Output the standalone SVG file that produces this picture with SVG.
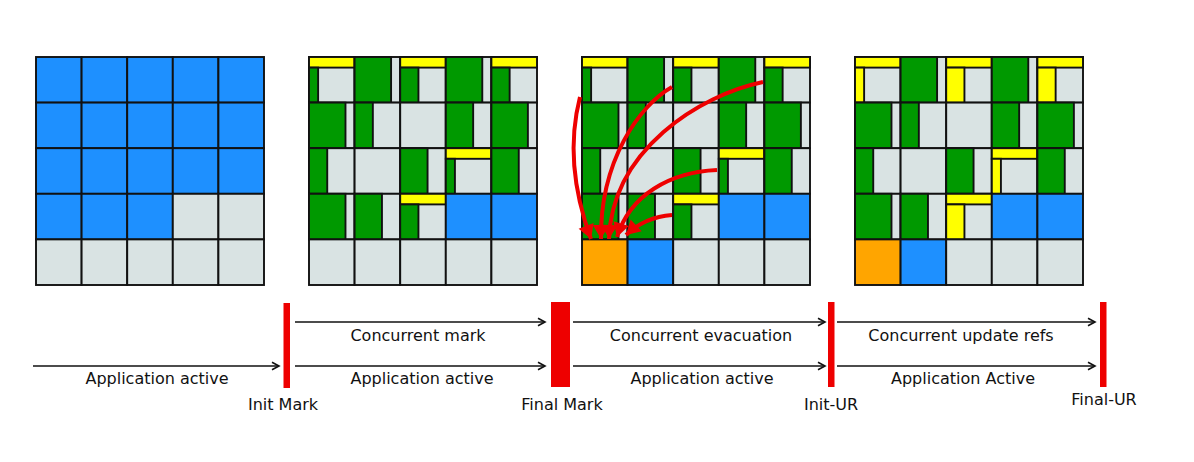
<svg xmlns="http://www.w3.org/2000/svg" width="1194" height="462" viewBox="0 0 1194 462">
<style>
rect{stroke:#111;stroke-width:1.9}
.e{fill:#d9e3e3}
.g{fill:#009900}
.b{fill:#1e90ff}
.y{fill:#ffff00}
.o{fill:#ffa500}
.bar{fill:#ee0000;stroke:none}
.ln{stroke:#111;stroke-width:1.6;fill:none;marker-end:url(#ah)}
.red{stroke:#ee0000;stroke-width:4;fill:none;marker-end:url(#rh)}
text{font-family:"DejaVu Sans","Liberation Sans",sans-serif;font-size:16px;fill:#111;text-anchor:middle}
</style>
<defs>
<marker id="ah" markerUnits="userSpaceOnUse" markerWidth="10" markerHeight="10" refX="8" refY="4" orient="auto" overflow="visible">
<path d="M1,0.3 L8,4 L1,7.7" fill="none" stroke="#111" stroke-width="1.6"/>
</marker>
<marker id="rh" markerUnits="userSpaceOnUse" markerWidth="16" markerHeight="16" refX="14" refY="8" orient="auto" overflow="visible">
<path d="M0,0 L14,8 L0,16 z" fill="#ee0000"/>
</marker>
</defs>

<!-- Panel 1: heap before GC -->
<g id="heap-1" transform="translate(36,57)">
<rect class="b" x="0" y="0" width="45.6" height="45.6"/><rect class="b" x="45.6" y="0" width="45.6" height="45.6"/><rect class="b" x="91.2" y="0" width="45.6" height="45.6"/><rect class="b" x="136.8" y="0" width="45.6" height="45.6"/><rect class="b" x="182.4" y="0" width="45.6" height="45.6"/>
<rect class="b" x="0" y="45.6" width="45.6" height="45.6"/><rect class="b" x="45.6" y="45.6" width="45.6" height="45.6"/><rect class="b" x="91.2" y="45.6" width="45.6" height="45.6"/><rect class="b" x="136.8" y="45.6" width="45.6" height="45.6"/><rect class="b" x="182.4" y="45.6" width="45.6" height="45.6"/>
<rect class="b" x="0" y="91.2" width="45.6" height="45.6"/><rect class="b" x="45.6" y="91.2" width="45.6" height="45.6"/><rect class="b" x="91.2" y="91.2" width="45.6" height="45.6"/><rect class="b" x="136.8" y="91.2" width="45.6" height="45.6"/><rect class="b" x="182.4" y="91.2" width="45.6" height="45.6"/>
<rect class="b" x="0" y="136.8" width="45.6" height="45.6"/><rect class="b" x="45.6" y="136.8" width="45.6" height="45.6"/><rect class="b" x="91.2" y="136.8" width="45.6" height="45.6"/><rect class="e" x="136.8" y="136.8" width="45.6" height="45.6"/><rect class="e" x="182.4" y="136.8" width="45.6" height="45.6"/>
<rect class="e" x="0" y="182.4" width="45.6" height="45.6"/><rect class="e" x="45.6" y="182.4" width="45.6" height="45.6"/><rect class="e" x="91.2" y="182.4" width="45.6" height="45.6"/><rect class="e" x="136.8" y="182.4" width="45.6" height="45.6"/><rect class="e" x="182.4" y="182.4" width="45.6" height="45.6"/>
</g>

<!-- Panel 2: after marking -->
<g id="heap-2" transform="translate(309,57)">
<rect class="e" x="0" y="0" width="45.6" height="45.6"/><rect class="y" x="0" y="0" width="45.6" height="10.6"/><rect class="g" x="0" y="10.6" width="9.12" height="35"/>
<rect class="e" x="45.6" y="0" width="45.6" height="45.6"/><rect class="g" x="45.6" y="0" width="36.48" height="45.6"/>
<rect class="e" x="91.2" y="0" width="45.6" height="45.6"/><rect class="y" x="91.2" y="0" width="45.6" height="10.6"/><rect class="g" x="91.2" y="10.6" width="18.24" height="35"/>
<rect class="e" x="136.8" y="0" width="45.6" height="45.6"/><rect class="g" x="136.8" y="0" width="36.48" height="45.6"/>
<rect class="e" x="182.4" y="0" width="45.6" height="45.6"/><rect class="y" x="182.4" y="0" width="45.6" height="10.6"/><rect class="g" x="182.4" y="10.6" width="18.24" height="35"/>
<rect class="e" x="0" y="45.6" width="45.6" height="45.6"/><rect class="g" x="0" y="45.6" width="36.48" height="45.6"/>
<rect class="e" x="45.6" y="45.6" width="45.6" height="45.6"/><rect class="g" x="45.6" y="45.6" width="18.24" height="45.6"/>
<rect class="e" x="91.2" y="45.6" width="45.6" height="45.6"/>
<rect class="e" x="136.8" y="45.6" width="45.6" height="45.6"/><rect class="g" x="136.8" y="45.6" width="27.36" height="45.6"/>
<rect class="e" x="182.4" y="45.6" width="45.6" height="45.6"/><rect class="g" x="182.4" y="45.6" width="36.48" height="45.6"/>
<rect class="e" x="0" y="91.2" width="45.6" height="45.6"/><rect class="g" x="0" y="91.2" width="18.24" height="45.6"/>
<rect class="e" x="45.6" y="91.2" width="45.6" height="45.6"/>
<rect class="e" x="91.2" y="91.2" width="45.6" height="45.6"/><rect class="g" x="91.2" y="91.2" width="27.36" height="45.6"/>
<rect class="e" x="136.8" y="91.2" width="45.6" height="45.6"/><rect class="y" x="136.8" y="91.2" width="45.6" height="10.6"/><rect class="g" x="136.8" y="101.8" width="9.12" height="35"/>
<rect class="e" x="182.4" y="91.2" width="45.6" height="45.6"/><rect class="g" x="182.4" y="91.2" width="27.36" height="45.6"/>
<rect class="e" x="0" y="136.8" width="45.6" height="45.6"/><rect class="g" x="0" y="136.8" width="36.48" height="45.6"/>
<rect class="e" x="45.6" y="136.8" width="45.6" height="45.6"/><rect class="g" x="45.6" y="136.8" width="27.36" height="45.6"/>
<rect class="e" x="91.2" y="136.8" width="45.6" height="45.6"/><rect class="y" x="91.2" y="136.8" width="45.6" height="10.6"/><rect class="g" x="91.2" y="147.4" width="18.24" height="35"/>
<rect class="b" x="136.8" y="136.8" width="45.6" height="45.6"/>
<rect class="b" x="182.4" y="136.8" width="45.6" height="45.6"/>
<rect class="e" x="0" y="182.4" width="45.6" height="45.6"/><rect class="e" x="45.6" y="182.4" width="45.6" height="45.6"/><rect class="e" x="91.2" y="182.4" width="45.6" height="45.6"/><rect class="e" x="136.8" y="182.4" width="45.6" height="45.6"/><rect class="e" x="182.4" y="182.4" width="45.6" height="45.6"/>
</g>

<!-- Panel 3: evacuation -->
<g id="heap-3" transform="translate(582,57)">
<rect class="e" x="0" y="0" width="45.6" height="45.6"/><rect class="y" x="0" y="0" width="45.6" height="10.6"/><rect class="g" x="0" y="10.6" width="9.12" height="35"/>
<rect class="e" x="45.6" y="0" width="45.6" height="45.6"/><rect class="g" x="45.6" y="0" width="36.48" height="45.6"/>
<rect class="e" x="91.2" y="0" width="45.6" height="45.6"/><rect class="y" x="91.2" y="0" width="45.6" height="10.6"/><rect class="g" x="91.2" y="10.6" width="18.24" height="35"/>
<rect class="e" x="136.8" y="0" width="45.6" height="45.6"/><rect class="g" x="136.8" y="0" width="36.48" height="45.6"/>
<rect class="e" x="182.4" y="0" width="45.6" height="45.6"/><rect class="y" x="182.4" y="0" width="45.6" height="10.6"/><rect class="g" x="182.4" y="10.6" width="18.24" height="35"/>
<rect class="e" x="0" y="45.6" width="45.6" height="45.6"/><rect class="g" x="0" y="45.6" width="36.48" height="45.6"/>
<rect class="e" x="45.6" y="45.6" width="45.6" height="45.6"/><rect class="g" x="45.6" y="45.6" width="18.24" height="45.6"/>
<rect class="e" x="91.2" y="45.6" width="45.6" height="45.6"/>
<rect class="e" x="136.8" y="45.6" width="45.6" height="45.6"/><rect class="g" x="136.8" y="45.6" width="27.36" height="45.6"/>
<rect class="e" x="182.4" y="45.6" width="45.6" height="45.6"/><rect class="g" x="182.4" y="45.6" width="36.48" height="45.6"/>
<rect class="e" x="0" y="91.2" width="45.6" height="45.6"/><rect class="g" x="0" y="91.2" width="18.24" height="45.6"/>
<rect class="e" x="45.6" y="91.2" width="45.6" height="45.6"/>
<rect class="e" x="91.2" y="91.2" width="45.6" height="45.6"/><rect class="g" x="91.2" y="91.2" width="27.36" height="45.6"/>
<rect class="e" x="136.8" y="91.2" width="45.6" height="45.6"/><rect class="y" x="136.8" y="91.2" width="45.6" height="10.6"/><rect class="g" x="136.8" y="101.8" width="9.12" height="35"/>
<rect class="e" x="182.4" y="91.2" width="45.6" height="45.6"/><rect class="g" x="182.4" y="91.2" width="27.36" height="45.6"/>
<rect class="e" x="0" y="136.8" width="45.6" height="45.6"/><rect class="g" x="0" y="136.8" width="36.48" height="45.6"/>
<rect class="e" x="45.6" y="136.8" width="45.6" height="45.6"/><rect class="g" x="45.6" y="136.8" width="27.36" height="45.6"/>
<rect class="e" x="91.2" y="136.8" width="45.6" height="45.6"/><rect class="y" x="91.2" y="136.8" width="45.6" height="10.6"/><rect class="g" x="91.2" y="147.4" width="18.24" height="35"/>
<rect class="b" x="136.8" y="136.8" width="45.6" height="45.6"/>
<rect class="b" x="182.4" y="136.8" width="45.6" height="45.6"/>
<rect class="o" x="0" y="182.4" width="45.6" height="45.6"/><rect class="b" x="45.6" y="182.4" width="45.6" height="45.6"/><rect class="e" x="91.2" y="182.4" width="45.6" height="45.6"/><rect class="e" x="136.8" y="182.4" width="45.6" height="45.6"/><rect class="e" x="182.4" y="182.4" width="45.6" height="45.6"/>
</g>

<!-- Panel 4: update refs -->
<g id="heap-4" transform="translate(855,57)">
<rect class="e" x="0" y="0" width="45.6" height="45.6"/><rect class="y" x="0" y="0" width="45.6" height="10.6"/><rect class="y" x="0" y="10.6" width="9.12" height="35"/>
<rect class="e" x="45.6" y="0" width="45.6" height="45.6"/><rect class="g" x="45.6" y="0" width="36.48" height="45.6"/>
<rect class="e" x="91.2" y="0" width="45.6" height="45.6"/><rect class="y" x="91.2" y="0" width="45.6" height="10.6"/><rect class="y" x="91.2" y="10.6" width="18.24" height="35"/>
<rect class="e" x="136.8" y="0" width="45.6" height="45.6"/><rect class="g" x="136.8" y="0" width="36.48" height="45.6"/>
<rect class="e" x="182.4" y="0" width="45.6" height="45.6"/><rect class="y" x="182.4" y="0" width="45.6" height="10.6"/><rect class="y" x="182.4" y="10.6" width="18.24" height="35"/>
<rect class="e" x="0" y="45.6" width="45.6" height="45.6"/><rect class="g" x="0" y="45.6" width="36.48" height="45.6"/>
<rect class="e" x="45.6" y="45.6" width="45.6" height="45.6"/><rect class="g" x="45.6" y="45.6" width="18.24" height="45.6"/>
<rect class="e" x="91.2" y="45.6" width="45.6" height="45.6"/>
<rect class="e" x="136.8" y="45.6" width="45.6" height="45.6"/><rect class="g" x="136.8" y="45.6" width="27.36" height="45.6"/>
<rect class="e" x="182.4" y="45.6" width="45.6" height="45.6"/><rect class="g" x="182.4" y="45.6" width="36.48" height="45.6"/>
<rect class="e" x="0" y="91.2" width="45.6" height="45.6"/><rect class="g" x="0" y="91.2" width="18.24" height="45.6"/>
<rect class="e" x="45.6" y="91.2" width="45.6" height="45.6"/>
<rect class="e" x="91.2" y="91.2" width="45.6" height="45.6"/><rect class="g" x="91.2" y="91.2" width="27.36" height="45.6"/>
<rect class="e" x="136.8" y="91.2" width="45.6" height="45.6"/><rect class="y" x="136.8" y="91.2" width="45.6" height="10.6"/><rect class="y" x="136.8" y="101.8" width="9.12" height="35"/>
<rect class="e" x="182.4" y="91.2" width="45.6" height="45.6"/><rect class="g" x="182.4" y="91.2" width="27.36" height="45.6"/>
<rect class="e" x="0" y="136.8" width="45.6" height="45.6"/><rect class="g" x="0" y="136.8" width="36.48" height="45.6"/>
<rect class="e" x="45.6" y="136.8" width="45.6" height="45.6"/><rect class="g" x="45.6" y="136.8" width="27.36" height="45.6"/>
<rect class="e" x="91.2" y="136.8" width="45.6" height="45.6"/><rect class="y" x="91.2" y="136.8" width="45.6" height="10.6"/><rect class="y" x="91.2" y="147.4" width="18.24" height="35"/>
<rect class="b" x="136.8" y="136.8" width="45.6" height="45.6"/>
<rect class="b" x="182.4" y="136.8" width="45.6" height="45.6"/>
<rect class="o" x="0" y="182.4" width="45.6" height="45.6"/><rect class="b" x="45.6" y="182.4" width="45.6" height="45.6"/><rect class="e" x="91.2" y="182.4" width="45.6" height="45.6"/><rect class="e" x="136.8" y="182.4" width="45.6" height="45.6"/><rect class="e" x="182.4" y="182.4" width="45.6" height="45.6"/>
</g>

<!-- Evacuation arrows -->
<g id="evacuation-arrows">
<path class="red" d="M580,97 Q563,163 591,239"/>
<path class="red" d="M672,87 C640,105 600,160 601,239"/>
<path class="red" d="M763,82 C700,95 612,150 609,239"/>
<path class="red" d="M717,170 C670,172 630,195 617,237"/>
<path class="red" d="M672,215 Q645,217 626,235"/>
</g>

<!-- Pause markers -->
<g id="pause-init-mark"><rect class="bar" x="283.5" y="303" width="6.5" height="85"/><text x="283" y="410">Init Mark</text></g>
<g id="pause-final-mark"><rect class="bar" x="551" y="302" width="19" height="85"/><text x="562" y="410">Final Mark</text></g>
<g id="pause-init-ur"><rect class="bar" x="828" y="302" width="6.5" height="85"/><text x="831" y="410">Init-UR</text></g>
<g id="pause-final-ur"><rect class="bar" x="1100" y="302" width="6.5" height="85"/><text x="1104" y="405">Final-UR</text></g>

<!-- Timeline connectors -->
<g id="timeline">
<line class="ln" x1="33" y1="366" x2="279" y2="366"/>
<line class="ln" x1="295" y1="322" x2="545" y2="322"/>
<line class="ln" x1="295" y1="366" x2="545" y2="366"/>
<line class="ln" x1="573" y1="322" x2="825" y2="322"/>
<line class="ln" x1="573" y1="366" x2="825" y2="366"/>
<line class="ln" x1="837" y1="322" x2="1095" y2="322"/>
<line class="ln" x1="837" y1="366" x2="1095" y2="366"/>
<text x="157" y="384">Application active</text>
<text x="418" y="341">Concurrent mark</text>
<text x="422" y="384">Application active</text>
<text x="701" y="341">Concurrent evacuation</text>
<text x="702" y="384">Application active</text>
<text x="961" y="341">Concurrent update refs</text>
<text x="963" y="384">Application Active</text>
</g>
</svg>
